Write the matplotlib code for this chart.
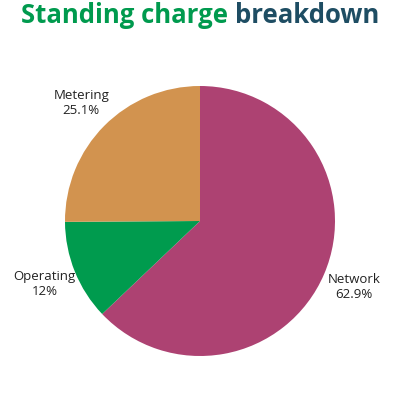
import matplotlib
matplotlib.use("Agg")
import matplotlib.pyplot as plt

categories = ["Network", "Operating", "Metering"]
values = [62.9, 12.0, 25.1]
pct_labels = ["62.9%", "12%", "25.1%"]
colors = ["#ad4272", "#009b4e", "#d2934f"]

fig = plt.figure(figsize=(4, 4), dpi=100)
fig.patch.set_facecolor("white")
ax = fig.add_axes([0.1625, 0.11, 0.675, 0.675])
labels = [f"{c}\n{p}" for c, p in zip(categories, pct_labels)]
wedges, texts = ax.pie(values, colors=colors, startangle=90, counterclock=False,
                       labels=labels, labeldistance=1.24,
                       wedgeprops=dict(linewidth=0),
                       textprops=dict(fontsize=9.5, family="Open Sans", color="#222222"))
for t in texts:
    t.set_horizontalalignment("center")
    t.set_verticalalignment("center")
    t.set_multialignment("center")
    t.set_linespacing(1.2)
ax.set_xlim(-1, 1)
ax.set_ylim(-1, 1)
ax.set_aspect("equal")
ax.axis("off")

t1 = fig.text(0, 0.962, "Standing charge ", ha="left", va="center", fontsize=18.5,
              fontweight="bold", family="Open Sans", color="#009a4e")
t2 = fig.text(0, 0.962, "breakdown", ha="left", va="center", fontsize=18.5,
              fontweight="bold", family="Open Sans", color="#1e4d63")
fig.canvas.draw()
r = fig.canvas.get_renderer()
w1 = t1.get_window_extent(r).width / fig.bbox.width
w2 = t2.get_window_extent(r).width / fig.bbox.width
x0 = 0.5 - (w1 + w2) / 2
t1.set_x(x0)
t2.set_x(x0 + w1)

fig.savefig("out.png", dpi=100, facecolor="white")
